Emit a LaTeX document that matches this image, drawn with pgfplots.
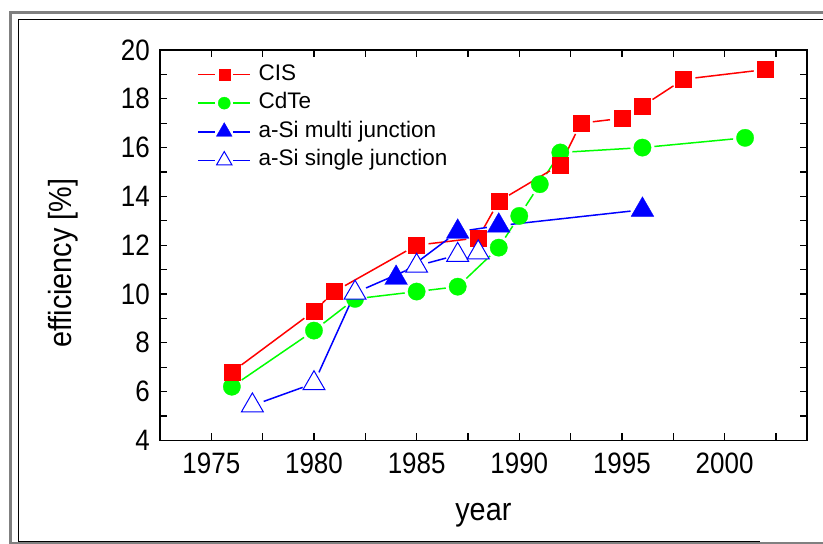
\documentclass[border=0pt]{standalone}
\usepackage{pgfplots}
\pgfplotsset{compat=1.18}
\usepackage{fontspec}
\setmainfont{Liberation Sans}
\newfontfamily\tickfont[FakeStretch=0.88]{Liberation Sans}
\newfontfamily\labfont[FakeStretch=0.9]{Liberation Sans}
\definecolor{cred}{RGB}{255,0,0}
\definecolor{cgreen}{RGB}{0,255,0}
\definecolor{cblue}{RGB}{0,0,255}
\definecolor{fgray}{RGB}{128,128,128}
\newcommand{\seg}[3]{\addplot[forget plot, #1, line width=1.5pt, shorten <=12pt, shorten >=12pt] coordinates {#2 #3};}
\begin{document}
\begin{tikzpicture}[x=1pt,y=1pt]
\useasboundingbox (0,0) rectangle (823,544);
\begin{scope}
\clip (0,0) rectangle (823,544);
\draw[fgray, line width=3pt] (10.5,-5) -- (10.5,531.5) -- (840,531.5);
\draw[fgray, line width=2pt] (10.5,1) -- (840,1);
\draw[black, line width=1pt] (18.2,2) -- (18.2,524.5) -- (840,524.5);
\draw[black, line width=1pt] (18.2,2) -- (760,2);
\end{scope}
\begin{axis}[
  at={(160pt,103.6pt)}, anchor=south west,
  scale only axis, width=646.7pt, height=390.4pt,
  xmin=1972.5, xmax=2004, ymin=4, ymax=20,
  xtick={1975,1980,...,2000}, minor xtick={1972.5,1977.5,...,2002.5},
  ytick={4,6,...,20}, minor ytick={5,7,...,19},
  tick align=inside, major tick length=7pt, minor tick length=7pt,
  every tick/.style={black, line width=1.2pt},
  every minor tick/.style={black, line width=1.2pt},
  axis line style={line width=1.6pt},
  /pgf/number format/assume math mode=true,
  /pgf/number format/1000 sep={},
  ticklabel style={font=\tickfont\fontsize{29.5}{34}\selectfont},
  xticklabel style={inner sep=0pt, yshift=-12.6pt},
  yticklabel style={inner sep=0pt, xshift=-10pt},
  xlabel={year},
  ylabel={efficiency [\%]},
  every axis x label/.style={at={(axis description cs:0.5,-0.191)}, anchor=center, font=\labfont\fontsize{32}{36}\selectfont},
  every axis y label/.style={at={(axis description cs:-0.149,0.454)}, rotate=90, anchor=center, font=\labfont\fontsize{32}{36}\selectfont},
  legend style={draw=none, fill=none, at={(axis description cs:0.058,0.964)}, anchor=north west,
    inner sep=0pt, outer sep=0pt, font=\fontsize{22.5}{27}\selectfont,
    row sep=7.6pt, column sep=7.7pt,
    nodes={inner sep=0pt, text height=16pt, text depth=5pt}, cells={anchor=west}},
  legend image code/.code={%
    \draw[#1, mark=none] (0pt,0pt) -- (17pt,0pt) (35pt,0pt) -- (52pt,0pt);
    \draw[#1, every mark/.append style={scale=0.7}] plot coordinates {(26pt,0pt)};},
]
\addlegendimage{cred, line width=1.5pt, mark=square*, mark size=8.0pt, mark options={solid, fill=cred, draw=cred, line width=0.3pt}}
\addlegendentry{CIS}
\addlegendimage{cgreen, line width=1.5pt, mark=*, mark size=8.7pt, mark options={solid, fill=cgreen, draw=cgreen, line width=0.3pt}}
\addlegendentry{CdTe}
\addlegendimage{cblue, line width=1.5pt, mark=triangle*, mark size=13.1pt, mark options={solid, fill=cblue, draw=cblue, line width=0.3pt}}
\addlegendentry{a-Si multi junction}
\addlegendimage{cblue, line width=1.5pt, mark=triangle*, mark size=12.6pt, mark options={solid, fill=white, draw=cblue, line width=1pt}}
\addlegendentry{a-Si single junction}

% ---- connecting lines (with gaps at the symbols) ----
% CdTe
\seg{cgreen}{(1976,6.2)}{(1980,8.5)}
\seg{cgreen}{(1980,8.5)}{(1982,9.8)}
\seg{cgreen}{(1982,9.8)}{(1985,10.1)}
\seg{cgreen}{(1985,10.1)}{(1987,10.3)}
\seg{cgreen}{(1987,10.3)}{(1989,11.9)}
\seg{cgreen}{(1989,11.9)}{(1990,13.2)}
\seg{cgreen}{(1990,13.2)}{(1991,14.5)}
\seg{cgreen}{(1991,14.5)}{(1992,15.8)}
\seg{cgreen}{(1992,15.8)}{(1996,16.0)}
\seg{cgreen}{(1996,16.0)}{(2001,16.4)}
% CIS
\seg{cred}{(1976,6.8)}{(1980,9.3)}
\seg{cred}{(1980,9.3)}{(1981,10.1)}
\seg{cred}{(1981,10.1)}{(1985,12.0)}
\seg{cred}{(1985,12.0)}{(1988,12.3)}
\seg{cred}{(1988,12.3)}{(1989,13.8)}
\seg{cred}{(1989,13.8)}{(1992,15.3)}
\seg{cred}{(1992,15.3)}{(1993,17.0)}
\seg{cred}{(1993,17.0)}{(1995,17.2)}
\seg{cred}{(1996,17.7)}{(1998,18.8)}
\seg{cred}{(1998,18.8)}{(2002,19.2)}
% a-Si multi junction
\seg{cblue}{(1984,10.66)}{(1987,12.55)}
\seg{cblue}{(1987,12.55)}{(1989,12.8)}
\seg{cblue}{(1989,12.8)}{(1996,13.45)}
% a-Si single junction
\seg{cblue}{(1977,5.43)}{(1980,6.34)}
\seg{cblue}{(1980,6.34)}{(1982,10.05)}
\seg{cblue}{(1982,10.05)}{(1985,11.15)}
\seg{cblue}{(1985,11.15)}{(1987,11.6)}

% ---- symbols ----
% CdTe
\addplot[forget plot, only marks, mark=*, mark size=8.7pt, mark options={solid, fill=cgreen, draw=cgreen, line width=0.3pt}]
coordinates {(1976,6.2) (1980,8.5) (1982,9.8) (1985,10.1) (1987,10.3) (1989,11.9) (1990,13.2) (1991,14.5) (1992,15.8) (1996,16.0) (2001,16.4)};
% CIS
\addplot[forget plot, only marks, mark=square*, mark size=8.0pt, mark options={solid, fill=cred, draw=cred, line width=0.3pt}]
coordinates {(1976,6.8) (1980,9.3) (1981,10.1) (1985,12.0) (1988,12.3) (1989,13.8) (1992,15.3) (1993,17.0) (1995,17.2) (1996,17.7) (1998,18.8) (2002,19.2)};
% a-Si multi junction
\addplot[forget plot, only marks, mark=triangle*, mark size=13.1pt, mark options={solid, fill=cblue, draw=cblue, line width=0.3pt}]
coordinates {(1984,10.66) (1987,12.55) (1989,12.8) (1996,13.45)};
% a-Si single junction
\addplot[forget plot, only marks, mark=triangle*, mark size=12.6pt, mark options={solid, fill=white, draw=cblue, line width=1pt}]
coordinates {(1977,5.43) (1980,6.34) (1982,10.05) (1985,11.15) (1987,11.6) (1988,11.7)};
\end{axis}
\end{tikzpicture}
\end{document}
